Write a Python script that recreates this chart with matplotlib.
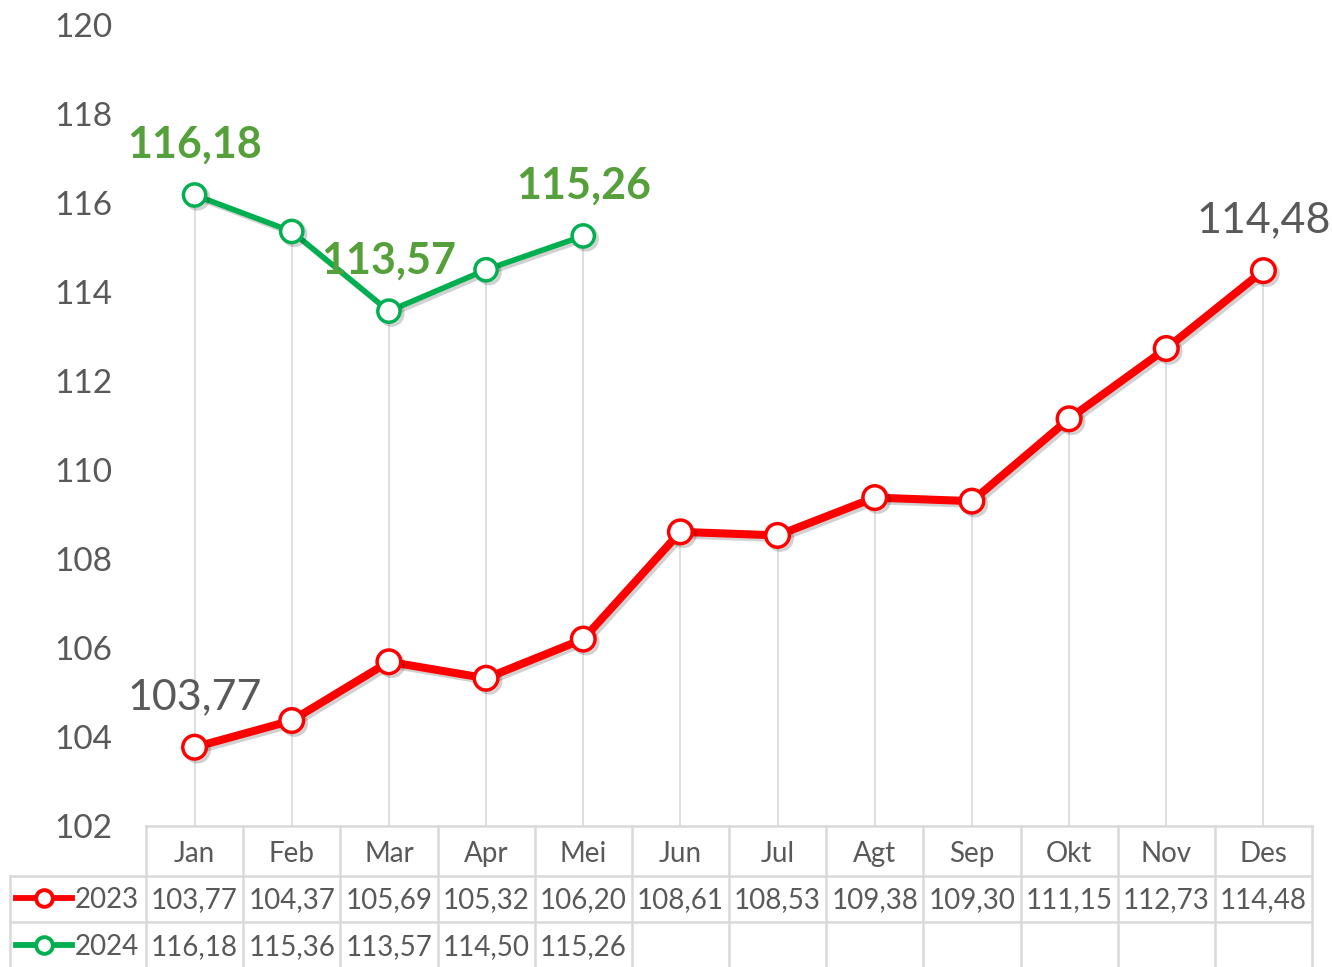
import numpy as np
import matplotlib
matplotlib.use("Agg")
import matplotlib.pyplot as plt
import matplotlib.patheffects as pe
from matplotlib.lines import Line2D

months = ["Jan", "Feb", "Mar", "Apr", "Mei", "Jun", "Jul", "Agt", "Sep", "Okt", "Nov", "Des"]
vals_2023 = [103.77, 104.37, 105.69, 105.32, 106.20, 108.61, 108.53, 109.38, 109.30, 111.15, 112.73, 114.48]
vals_2024 = [116.18, 115.36, 113.57, 114.50, 115.26]
yticks = [102, 104, 106, 108, 110, 112, 114, 116, 118, 120]

RED = "#FF0000"
GREEN = "#00B050"
LABEL_GREEN = "#55A03A"
GREY_TXT = "#595959"
GRID = "#D9D9D9"
W, H = 1332, 967

plt.rcParams["font.family"] = ["Lato", "DejaVu Sans"]

def fx(x):
    return x / W

def fy(y):
    return 1 - y / H

def fmt(v):
    return f"{v:.2f}".replace(".", ",")

fig = plt.figure(figsize=(W / 100, H / 100), dpi=100)
left, right, top, bottom = 146, 1312, 25, 826
ax = fig.add_axes([fx(left), fy(bottom), fx(right) - fx(left), fy(top) - fy(bottom)])

x = np.arange(len(months))
x24 = np.arange(len(vals_2024))

# drop lines from highest point down to the axis
tops = [max(vals_2023[i], vals_2024[i]) if i < len(vals_2024) else vals_2023[i] for i in x]
ax.vlines(x, yticks[0], tops, color=GRID, lw=1.2, zorder=1)

shadow = [pe.SimpleLineShadow(offset=(2, -2), shadow_color="k", alpha=0.18), pe.Normal()]
ax.plot(x, vals_2023, color=RED, lw=5.8, marker="o", ms=17, mfc="white", mec=RED, mew=2.5,
        zorder=3, path_effects=shadow)
ax.plot(x24, vals_2024, color=GREEN, lw=4, marker="o", ms=16, mfc="white", mec=GREEN, mew=2.5,
        zorder=3, path_effects=shadow)

# data labels
for i in [0, len(vals_2023) - 1]:
    ax.annotate(fmt(vals_2023[i]), (x[i], vals_2023[i]), xytext=(0, 36), textcoords="offset points",
                ha="center", va="center", fontsize=31, color=GREY_TXT, zorder=4,
                annotation_clip=False)
for i in [0, 2, 4]:
    ax.annotate(fmt(vals_2024[i]), (x24[i], vals_2024[i]), xytext=(0, 36), textcoords="offset points",
                ha="center", va="center", fontsize=31, fontweight="bold", color=LABEL_GREEN,
                zorder=4, annotation_clip=False)

ax.set_xlim(-0.5, len(months) - 0.5)
ax.set_ylim(yticks[0], yticks[-1])
ax.set_yticks(yticks)
ax.set_yticklabels([str(t) for t in yticks], fontsize=24, color=GREY_TXT)
ax.tick_params(axis="y", length=0, pad=24)
ax.set_xticks([])
for s in ax.spines.values():
    s.set_visible(False)

# data table below the chart
col_w = (right - left) / len(months)
edges = [left + k * col_w for k in range(len(months) + 1)]
row_y = [826, 876, 922, 967]

def hline(y, x0, x1):
    fig.add_artist(Line2D([fx(x0), fx(x1)], [fy(y), fy(y)], color=GRID, lw=1.8))

def vline(xp, y0, y1):
    fig.add_artist(Line2D([fx(xp), fx(xp)], [fy(y0), fy(y1)], color=GRID, lw=1.8))

hline(row_y[0], left, right)
hline(row_y[1], 10, right)
hline(row_y[2], 10, right)
for e in edges:
    vline(e, row_y[0], row_y[3])
vline(10, row_y[1], row_y[3])

for i, m in enumerate(months):
    cx = fx((edges[i] + edges[i + 1]) / 2)
    fig.text(cx, fy(854), m, ha="center", va="center", fontsize=20, color=GREY_TXT)
    fig.text(cx, fy(900), fmt(vals_2023[i]), ha="center", va="center", fontsize=20, color=GREY_TXT)
    if i < len(vals_2024):
        fig.text(cx, fy(947), fmt(vals_2024[i]), ha="center", va="center", fontsize=20, color=GREY_TXT)

for yy, name, col in [(898, "2023", RED), (945, "2024", GREEN)]:
    fig.add_artist(Line2D([fx(16), fx(72)], [fy(yy), fy(yy)], color=col, lw=4.2))
    fig.add_artist(Line2D([fx(44)], [fy(yy)], marker="o", ms=12, mfc="white", mec=col, mew=2.8))
    fig.text(fx(75), fy(yy + 2), name, ha="left", va="center", fontsize=20, color=GREY_TXT)

fig.savefig("out.png", dpi=100)
